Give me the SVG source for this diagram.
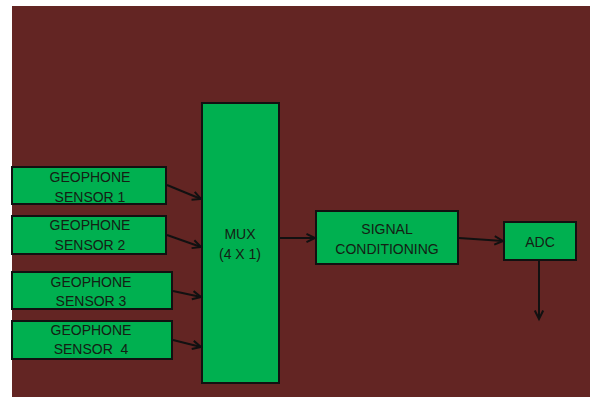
<svg xmlns="http://www.w3.org/2000/svg" width="590" height="397" viewBox="0 0 590 397">
<defs>
<style>
.box{fill:#00b050;stroke:#111;stroke-width:2}
.t{font-family:"Liberation Sans",Arial,sans-serif;font-size:14px;fill:#142014;text-anchor:middle}
.c{stroke:#111;stroke-width:2;fill:none;marker-end:url(#ah)}
</style>
<marker id="ah" viewBox="0 0 10 10" refX="9.5" refY="5" markerWidth="10" markerHeight="10" markerUnits="userSpaceOnUse" orient="auto" overflow="visible">
<path d="M1,0.8 L9.5,5 L1,9.2" fill="none" stroke="#111" stroke-width="2"/>
</marker>
</defs>
<rect x="0" y="0" width="590" height="397" fill="#ffffff"/>
<rect x="12" y="6" width="578" height="391" fill="#632523"/>
<g id="sensor1"><rect class="box" x="12" y="167" width="154" height="37"/><text class="t" x="90" y="182">GEOPHONE</text><text class="t" x="90" y="202">SENSOR 1</text></g>
<g id="sensor2"><rect class="box" x="12" y="216" width="154" height="38"/><text class="t" x="90" y="230">GEOPHONE</text><text class="t" x="90" y="250">SENSOR 2</text></g>
<g id="sensor3"><rect class="box" x="12" y="272" width="160" height="37"/><text class="t" x="91" y="287">GEOPHONE</text><text class="t" x="91" y="306">SENSOR 3</text></g>
<g id="sensor4"><rect class="box" x="12" y="321" width="160" height="38"/><text class="t" x="91" y="335">GEOPHONE</text><text class="t" x="91" y="354" xml:space="preserve">SENSOR  4</text></g>
<g id="mux"><rect class="box" x="202" y="103" width="77" height="280"/><text class="t" x="240" y="239">MUX</text><text class="t" x="240" y="259">(4 X 1)</text></g>
<g id="signal-conditioning"><rect class="box" x="316" y="211" width="142" height="53"/><text class="t" x="387" y="234">SIGNAL</text><text class="t" x="387" y="254">CONDITIONING</text></g>
<g id="adc"><rect class="box" x="504" y="222" width="72" height="38"/><text class="t" x="540" y="247">ADC</text></g>
<g id="connectors">
<line class="c" x1="167" y1="185" x2="201" y2="199"/>
<line class="c" x1="167" y1="235" x2="201" y2="247"/>
<line class="c" x1="173" y1="291" x2="201" y2="297"/>
<line class="c" x1="173" y1="340" x2="201" y2="347"/>
<line class="c" x1="280" y1="238" x2="315" y2="238"/>
<line class="c" x1="459" y1="238" x2="503" y2="241"/>
<line class="c" x1="539" y1="261" x2="539" y2="319"/>
</g>
</svg>
